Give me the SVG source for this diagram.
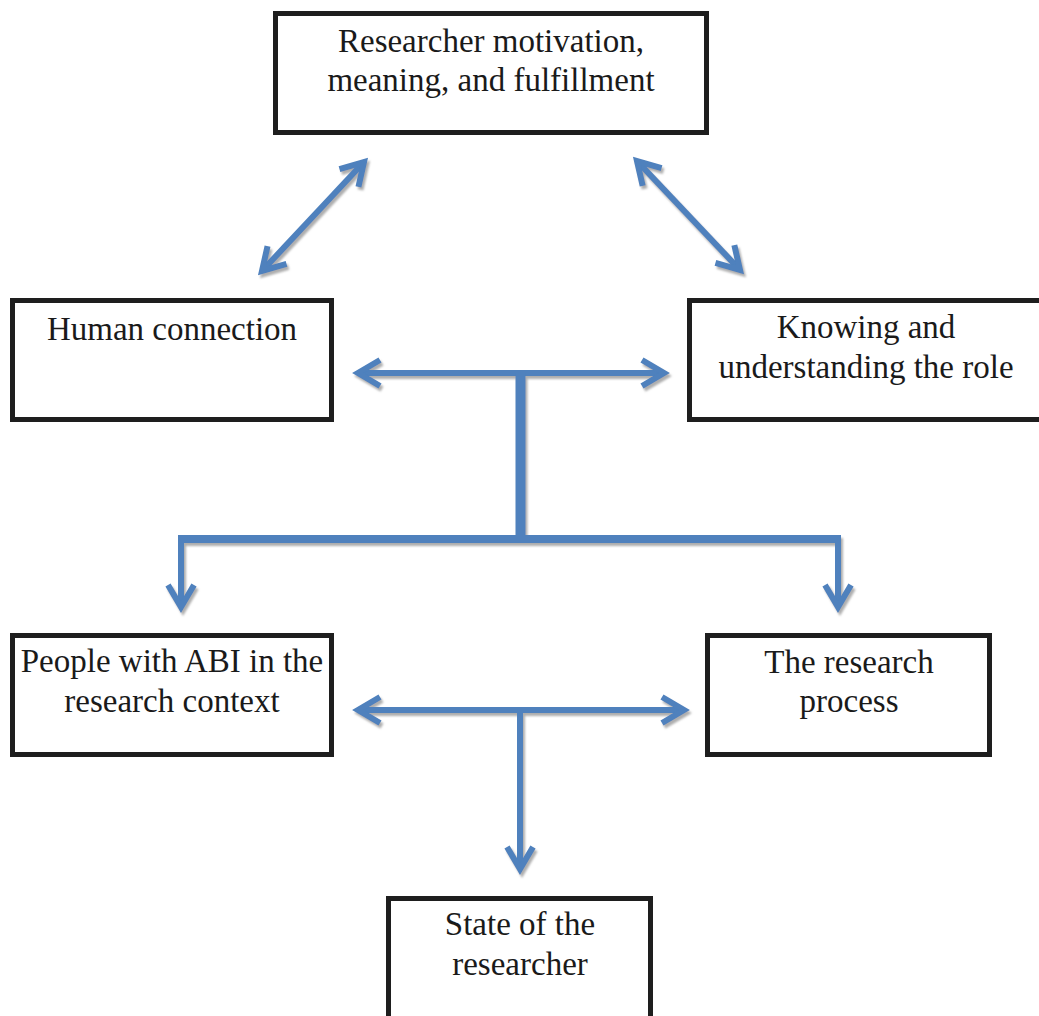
<svg xmlns="http://www.w3.org/2000/svg" width="1039" height="1016" viewBox="0 0 1039 1016">
  <style>
    .box { fill: #ffffff; stroke: #1e1e1e; stroke-width: 5; }
    .lbl { font-family: "Liberation Serif", "Times New Roman", serif; font-size: 33px; fill: #1a1a1a; text-anchor: middle; }
    .conn { fill: none; stroke: #4F81BD; stroke-linecap: butt; stroke-linejoin: miter; }
    .thin { stroke-width: 6; }
    .arr { marker-start: url(#head); marker-end: url(#head); }
    .arr1 { marker-end: url(#head); }
  </style>
  <defs>
    <marker id="head" markerUnits="userSpaceOnUse" orient="auto-start-reverse" refX="0" refY="0" markerWidth="40" markerHeight="40" overflow="visible">
      <path d="M -22,-13 L 0,0 L -22,13" fill="none" stroke="#4F81BD" stroke-width="6" stroke-linejoin="miter"/>
    </marker>
    <filter id="shadow" x="-10%" y="-10%" width="120%" height="120%">
      <feDropShadow dx="2" dy="3" stdDeviation="0.8" flood-color="#9a9a9a" flood-opacity="0.8"/>
    </filter>
  </defs>
  <rect width="1039" height="1016" fill="#ffffff"/>

  <g id="connectors" filter="url(#shadow)">
    <line class="conn thin arr" x1="262" y1="271" x2="364" y2="162"/>
    <line class="conn thin arr" x1="637" y1="161" x2="740" y2="270"/>
    <line class="conn thin arr" x1="358" y1="373" x2="664" y2="373"/>
    <line class="conn" stroke-width="10" x1="520.5" y1="373" x2="520.5" y2="539"/>
    <line class="conn" stroke-width="8" x1="178" y1="539" x2="841" y2="539"/>
    <line class="conn thin arr1" x1="181" y1="535" x2="181" y2="607"/>
    <line class="conn thin arr1" x1="838" y1="535" x2="838" y2="607"/>
    <line class="conn thin arr" x1="358" y1="710" x2="684" y2="710"/>
    <line class="conn thin arr1" x1="520" y1="710" x2="520" y2="869"/>
  </g>

  <g id="node-motivation">
    <rect class="box" x="275.5" y="13.5" width="431" height="119"/>
    <text class="lbl" x="491" y="52">Researcher motivation,</text>
    <text class="lbl" x="491" y="91">meaning, and fulfillment</text>
  </g>
  <g id="node-human">
    <rect class="box" x="12.5" y="300.5" width="319" height="119"/>
    <text class="lbl" x="172" y="340">Human connection</text>
  </g>
  <g id="node-knowing">
    <rect class="box" x="689.5" y="300.5" width="360" height="119"/>
    <text class="lbl" x="866" y="338">Knowing and</text>
    <text class="lbl" x="866" y="378">understanding the role</text>
  </g>
  <g id="node-people">
    <rect class="box" x="12.5" y="635.5" width="319" height="119"/>
    <text class="lbl" x="172" y="672">People with ABI in the</text>
    <text class="lbl" x="172" y="712">research context</text>
  </g>
  <g id="node-process">
    <rect class="box" x="707.5" y="635.5" width="282" height="119"/>
    <text class="lbl" x="849" y="673">The research</text>
    <text class="lbl" x="849" y="712">process</text>
  </g>
  <g id="node-state">
    <rect class="box" x="388.5" y="898.5" width="262" height="130"/>
    <text class="lbl" x="520" y="935">State of the</text>
    <text class="lbl" x="520" y="975">researcher</text>
  </g>
</svg>
